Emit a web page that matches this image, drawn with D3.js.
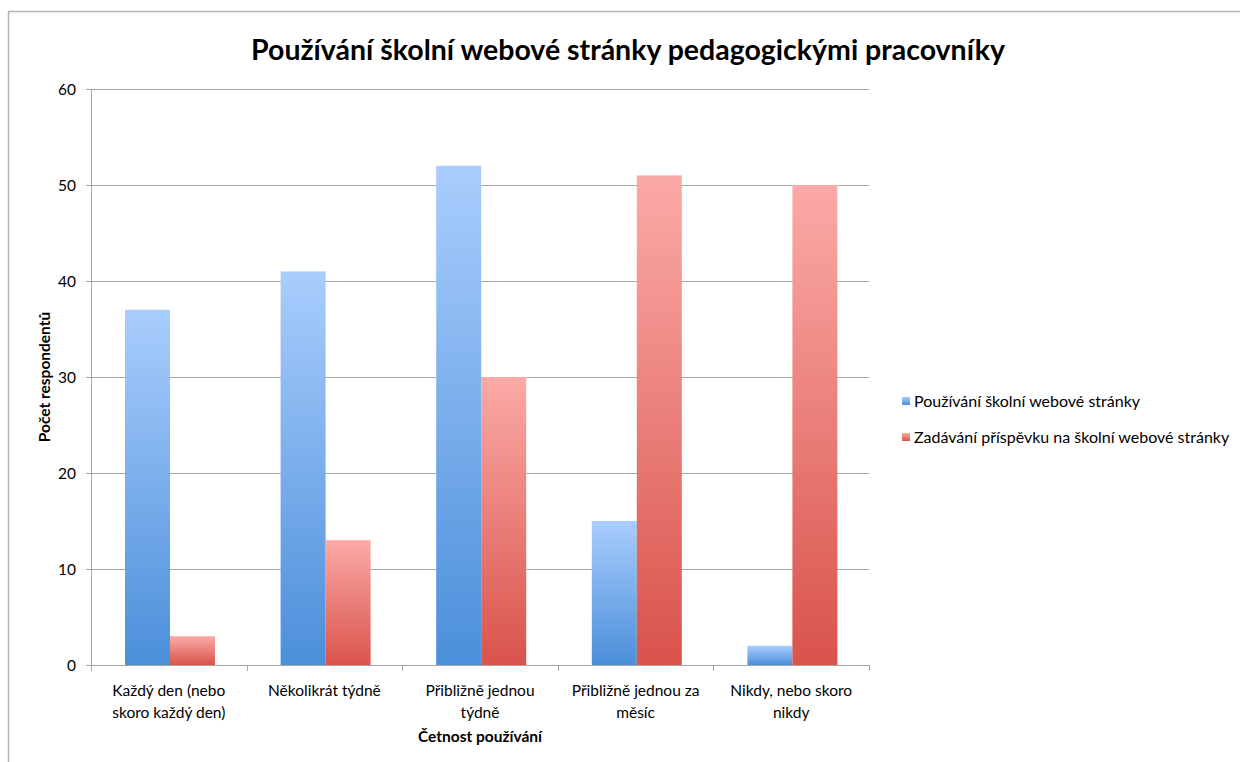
<!DOCTYPE html>
<html>
<head>
<meta charset="utf-8">
<script src="https://cdn.jsdelivr.net/npm/d3@7"></script>
<style>
body { margin: 0; background: #fff; }
text { font-family: Lato, "Open Sans", sans-serif; fill: #000; }
</style>
</head>
<body>
<script>
var categories = ["Každý den (nebo|skoro každý den)", "Několikrát týdně", "Přibližně jednou|týdně", "Přibližně jednou za|měsíc", "Nikdy, nebo skoro|nikdy"];
var seriesNames = ["Používání školní webové stránky", "Zadávání příspěvku na školní webové stránky"];
var useSite = [37, 41, 52, 15, 2];
var postSite = [3, 13, 30, 51, 50];
var yTicks = [0, 10, 20, 30, 40, 50, 60];

var W = 1240, H = 762;
var pLeft = 91, pRight = 869, pTop = 89, pBottom = 665;

var svg = d3.select("body").append("svg").attr("width", W).attr("height", H);

var defs = svg.append("defs");
var grads = [["gBlue", "#a9cdfd", "#4b8fda"], ["gRed", "#fbaaa7", "#d9534b"]];
grads.forEach(function (g) {
    var lg = defs.append("linearGradient").attr("id", g[0]).attr("x1", 0).attr("y1", 0).attr("x2", 0).attr("y2", 1);
    lg.append("stop").attr("offset", "0%").attr("stop-color", g[1]);
    lg.append("stop").attr("offset", "100%").attr("stop-color", g[2]);
});

// frame
svg.append("path").attr("d", "M8.5," + H + " V11.5 H" + W).attr("fill", "none").attr("stroke", "#b3b3b3").attr("stroke-width", 1.5);

var x0 = d3.scaleBand().domain(categories).range([pLeft, pRight]).padding(0);
var x1 = d3.scaleBand().domain([0, 1]).range([34, 124]).padding(0);
var y = d3.scaleLinear().domain([0, 60]).range([pBottom, pTop]);

// grid
svg.append("g").selectAll("line").data(yTicks).enter().append("line")
    .attr("x1", pLeft - 5).attr("x2", pRight)
    .attr("y1", function (d) { return Math.round(y(d)) + 0.5; })
    .attr("y2", function (d) { return Math.round(y(d)) + 0.5; })
    .attr("stroke", "#a6a6a6").attr("stroke-width", 1);

// y labels
svg.append("g").selectAll("text").data(yTicks).enter().append("text")
    .attr("x", 76).attr("y", function (d) { return y(d) + 6; })
    .attr("text-anchor", "end").style("font-size", "15.5px").text(function (d) { return d; });

// bars
var data = [useSite, postSite];
var g = svg.append("g").selectAll("g").data(categories).enter().append("g")
    .attr("transform", function (d) { return "translate(" + x0(d) + ",0)"; });
g.selectAll("rect").data(function (d, i) { return [0, 1].map(function (s) { return { s: s, v: data[s][i] }; }); })
    .enter().append("rect")
    .attr("x", function (d) { return x1(d.s); })
    .attr("width", x1.bandwidth())
    .attr("y", function (d) { return y(d.v); })
    .attr("height", function (d) { return pBottom - y(d.v); })
    .style("fill", function (d) { return d.s === 0 ? "url(#gBlue)" : "url(#gRed)"; });

// axes lines
svg.append("line").attr("x1", pLeft + 0.5).attr("x2", pLeft + 0.5).attr("y1", pTop).attr("y2", pBottom + 6).attr("stroke", "#a6a6a6");
svg.append("line").attr("x1", pLeft).attr("x2", pRight).attr("y1", pBottom + 0.5).attr("y2", pBottom + 0.5).attr("stroke", "#a6a6a6");
svg.append("g").selectAll("line").data(d3.range(categories.length + 1)).enter().append("line")
    .attr("x1", function (d) { return Math.round(pLeft + d * x0.step()) + 0.5; })
    .attr("x2", function (d) { return Math.round(pLeft + d * x0.step()) + 0.5; })
    .attr("y1", pBottom).attr("y2", pBottom + 6).attr("stroke", "#a6a6a6");

// category labels
var cl = svg.append("g").selectAll("text").data(categories).enter().append("text")
    .attr("text-anchor", "middle").style("font-size", "15.5px")
    .attr("transform", function (d) { return "translate(" + (x0(d) + x0.bandwidth() / 2) + ",696)"; });
cl.selectAll("tspan").data(function (d) { return d.split("|"); }).enter().append("tspan")
    .attr("x", 0).attr("dy", function (d, i) { return i ? 22 : 0; }).text(function (d) { return d; });

// axis titles
svg.append("text").attr("x", (pLeft + pRight) / 2).attr("y", 742).attr("text-anchor", "middle")
    .style("font-size", "15.5px").style("font-weight", "bold").text("Četnost používání");
svg.append("text").attr("transform", "translate(50," + ((pTop + pBottom) / 2) + ") rotate(-90)")
    .attr("text-anchor", "middle").style("font-size", "15.5px").style("font-weight", "bold").text("Počet respondentů");

// title
svg.append("text").attr("x", 628).attr("y", 60).attr("text-anchor", "middle")
    .style("font-size", "28.5px").style("font-weight", "bold").text("Používání školní webové stránky pedagogickými pracovníky");

// legend
var lg = svg.append("g").selectAll("g").data(seriesNames).enter().append("g")
    .attr("transform", function (d, i) { return "translate(902," + (397 + i * 36) + ")"; });
lg.append("rect").attr("width", 8).attr("height", 8)
    .style("fill", function (d, i) { return i === 0 ? "url(#gBlue)" : "url(#gRed)"; });
lg.append("text").attr("x", 12).attr("y", 10).style("font-size", "16px").text(function (d) { return d; });
</script>
</body>
</html>
